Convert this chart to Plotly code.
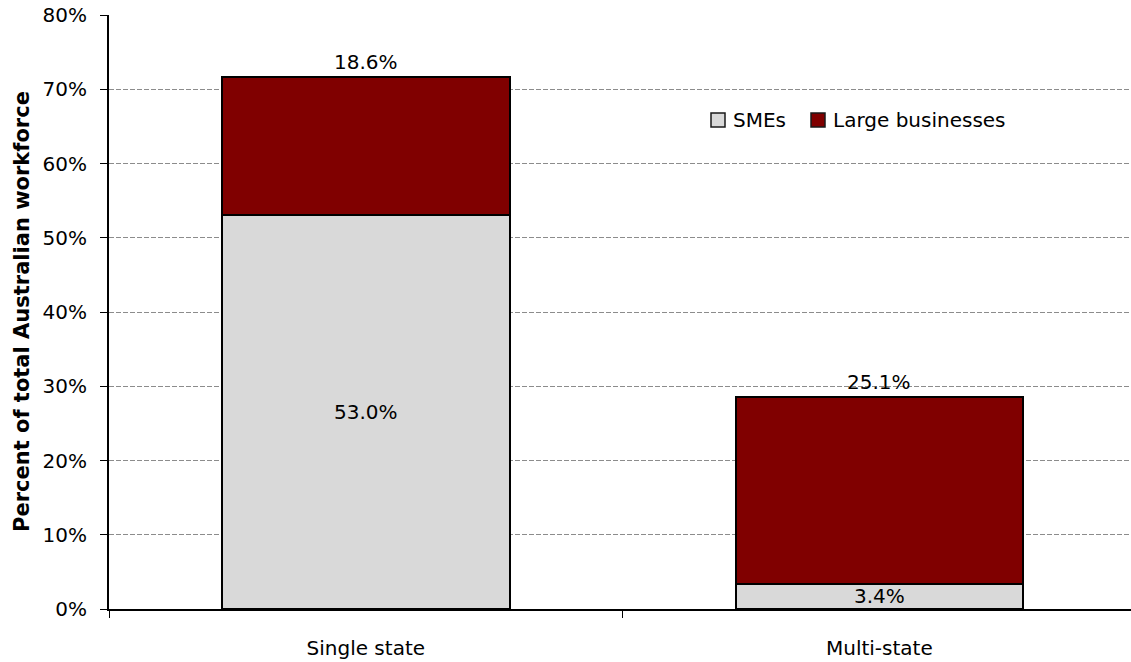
import plotly.graph_objects as go

# Share of the Australian workforce by business footprint
categories = ["Single state", "Multi-state"]
smes = [53.0, 3.4]
large = [18.6, 25.1]
series_names = ["SMEs", "Large businesses"]
series_colors = ["#D9D9D9", "#800000"]
y_ticks = [0, 10, 20, 30, 40, 50, 60, 70, 80]

FONT = "DejaVu Sans"
SIZE = 20
x_pos = list(range(len(categories)))

fig = go.Figure()
for name, vals, col in zip(series_names, [smes, large], series_colors):
    fig.add_trace(go.Bar(
        x=x_pos, y=vals, name=name, width=0.56, showlegend=False,
        marker=dict(color=col, line=dict(color="black", width=2)),
    ))

# value labels: SMEs centred in their segment, large businesses above the stack
for xi, s, l in zip(x_pos, smes, large):
    fig.add_annotation(x=xi, y=s / 2, text=f"{s:.1f}%", showarrow=False,
                       font=dict(family=FONT, size=SIZE, color="black"),
                       yanchor="middle")
    fig.add_annotation(x=xi, y=s + l, text=f"{l:.1f}%", showarrow=False,
                       font=dict(family=FONT, size=SIZE, color="black"),
                       yanchor="bottom", yshift=1)

# compact legend drawn as swatches + labels (paper coordinates)
PLOT_L, PLOT_W, PLOT_B, PLOT_H = 109, 1022, 609, 594
def px_x(p):
    return (p - PLOT_L) / PLOT_W
def px_y(p):
    return (PLOT_B - p) / PLOT_H

legend_box_left = [711, 811]
for name, col, bx in zip(series_names, series_colors, legend_box_left):
    fig.add_shape(type="rect", xref="paper", yref="paper",
                  x0=px_x(bx), x1=px_x(bx + 14), y0=px_y(127), y1=px_y(113),
                  fillcolor=col, line=dict(color="#1a1a1a", width=1.5))
    fig.add_annotation(xref="paper", yref="paper", x=px_x(bx + 20), y=px_y(120),
                       text=name, showarrow=False, xanchor="left", yanchor="middle",
                       font=dict(family=FONT, size=SIZE, color="black"))

# y-axis title
fig.add_annotation(xref="paper", yref="paper", x=px_x(22), y=0.5,
                   text="<b>Percent of total Australian workforce</b>",
                   textangle=-90, showarrow=False, xanchor="center",
                   font=dict(family=FONT, size=21, color="black"))

fig.update_layout(
    width=1131, height=662,
    margin=dict(l=109, r=0, t=15, b=53),
    barmode="stack",
    plot_bgcolor="white", paper_bgcolor="white",
    font=dict(family=FONT, size=SIZE, color="black"),
    showlegend=False,
    xaxis=dict(
        range=[-0.5, 1.49], tickmode="array", tickvals=x_pos, ticktext=categories,
        ticks="", showgrid=False, zeroline=False,
        showline=True, linecolor="black", linewidth=2,
        ticklabelstandoff=20,
        minor=dict(tickmode="array", tickvals=[-0.5, 0.5], ticks="outside",
                   ticklen=7, tickwidth=1, tickcolor="black", showgrid=False),
    ),
    yaxis=dict(
        range=[0, 80], tickmode="array", tickvals=y_ticks,
        ticktext=[f"{v}%" for v in y_ticks],
        ticks="outside", ticklen=7, tickwidth=1, tickcolor="black",
        showline=True, linecolor="black", linewidth=2,
        showgrid=True, gridcolor="#8c8c8c", gridwidth=1, griddash="5px,2px",
        zeroline=False, ticklabelstandoff=9,
    ),
)

fig.write_html("out.html")
